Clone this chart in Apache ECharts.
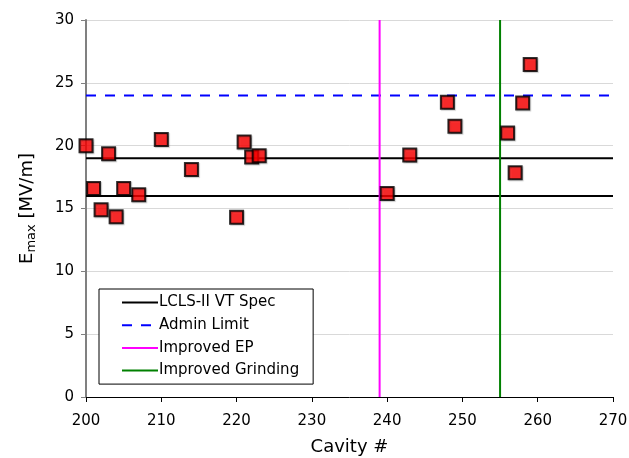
<!DOCTYPE html>
<html>
<head>
<meta charset="utf-8">
<script src="https://cdn.jsdelivr.net/npm/echarts@6/dist/echarts.min.js"></script>
<style>
  html, body { margin: 0; padding: 0; background: #fff; }
  #chart { width: 629px; height: 458px; }
</style>
</head>
<body>
<div id="chart"></div>
<script>
// cavity numbers and their Emax values (MV/m)
var cavities = [200, 201, 202, 203, 204, 205, 207, 210, 214, 220, 221, 222, 223,
                240, 243, 248, 249, 256, 257, 258, 259];
var emax = [20.0, 16.6, 14.9, 19.35, 14.35, 16.6, 16.1, 20.5, 18.1, 14.3, 20.3, 19.1, 19.2,
            16.2, 19.25, 23.45, 21.55, 21.0, 17.85, 23.4, 26.45];

var specLevels = [19, 16];   // LCLS-II VT Spec
var adminLimit = 24;         // Admin Limit
var improvedEP = 239;        // Improved EP
var improvedGrinding = 255;  // Improved Grinding

var xTicks = [200, 210, 220, 230, 240, 250, 260, 270];
var yTicks = [0, 5, 10, 15, 20, 25, 30];

var font = "DejaVu Sans";

var points = cavities.map(function (c, i) { return [c, emax[i]]; });

var specData = [];
specLevels.forEach(function (v, i) {
  if (i > 0) specData.push("-");
  specData.push([xTicks[0], v], [xTicks[xTicks.length - 1], v]);
});

var chart = echarts.init(document.getElementById("chart"), null, { renderer: "canvas" });
chart.setOption({
  animation: false,
  backgroundColor: "#fff",
  textStyle: { fontFamily: font },
  grid: { left: 86, right: 16, top: 20, bottom: 61, containLabel: false, outerBoundsMode: "none" },
  legend: {
    data: ["LCLS-II VT Spec", "Admin Limit", "Improved EP", "Improved Grinding"],
    orient: "vertical",
    left: 99,
    top: 289,
    backgroundColor: "#fff",
    borderColor: "#000",
    borderWidth: 1,
    borderRadius: 0,
    padding: [6, 14, 6, 22],
    itemWidth: 36,
    itemHeight: 14,
    itemGap: 7.7,
    itemStyle: { opacity: 0 },
    textStyle: { fontFamily: font, fontSize: 15, color: "#000", padding: [0, 0, 0, -4] }
  },
  xAxis: {
    type: "value",
    min: 200,
    max: 270,
    interval: 10,
    name: "Cavity #",
    nameLocation: "middle",
    nameGap: 41,
    nameTextStyle: { fontFamily: font, fontSize: 18, color: "#000" },
    axisLine: { lineStyle: { color: "#000", width: 1 } },
    axisTick: { show: true, length: 5, lineStyle: { color: "#000" } },
    axisLabel: { fontFamily: font, fontSize: 15, color: "#000", margin: 17 },
    splitLine: { show: false }
  },
  yAxis: {
    type: "value",
    min: 0,
    max: 30,
    interval: 5,
    name: "{e|E}{sub|max}{e| [MV/m]}",
    nameLocation: "middle",
    nameRotate: 90,
    nameGap: 48,
    nameTextStyle: {
      rich: {
        e: { fontFamily: font, fontSize: 18, color: "#000" },
        sub: { fontFamily: font, fontSize: 13, color: "#000", padding: [9, 0, 0, 0] }
      }
    },
    axisLine: { show: true, lineStyle: { color: "#808080", width: 2 } },
    axisTick: { show: true, length: 5, lineStyle: { color: "#808080" } },
    axisLabel: { fontFamily: font, fontSize: 15, color: "#000", margin: 12 },
    splitLine: { show: true, lineStyle: { color: "#d9d9d9", width: 1 } }
  },
  series: [
    {
      name: "LCLS-II VT Spec",
      type: "line",
      data: specData,
      symbol: "none",
      connectNulls: false,
      lineStyle: { color: "#000", width: 2 },
      itemStyle: { color: "#000" },
      z: 2
    },
    {
      name: "Admin Limit",
      type: "line",
      data: [[xTicks[0], adminLimit], [xTicks[xTicks.length - 1], adminLimit]],
      symbol: "none",
      lineStyle: { color: "#0000ff", width: 2, type: [10, 9] },
      itemStyle: { color: "#0000ff" },
      z: 2
    },
    {
      name: "Improved EP",
      type: "line",
      data: [[improvedEP, yTicks[0]], [improvedEP, yTicks[yTicks.length - 1]]],
      symbol: "none",
      lineStyle: { color: "#ff00ff", width: 2 },
      itemStyle: { color: "#ff00ff" },
      z: 2
    },
    {
      name: "Improved Grinding",
      type: "line",
      data: [[improvedGrinding, yTicks[0]], [improvedGrinding, yTicks[yTicks.length - 1]]],
      symbol: "none",
      lineStyle: { color: "#008000", width: 2 },
      itemStyle: { color: "#008000" },
      z: 2
    },
    {
      name: "Emax",
      type: "scatter",
      data: points,
      symbol: "rect",
      symbolSize: 13,
      itemStyle: {
        color: "#ff0000",
        borderColor: "#000",
        borderWidth: 2,
        shadowColor: "rgba(0,0,0,0.25)",
        shadowBlur: 1,
        shadowOffsetX: 1,
        shadowOffsetY: 1
      },
      z: 5
    }
  ]
});
</script>
</body>
</html>
